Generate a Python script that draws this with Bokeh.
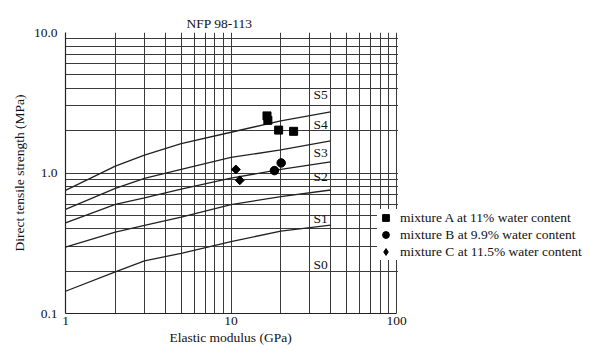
from bokeh.plotting import figure
from bokeh.models import FixedTicker, Legend, LegendItem, Range1d, BoxAnnotation, Title
from bokeh.core.properties import value
from bokeh.embed import file_html
from bokeh.resources import INLINE
import math

# ---- data ----
curve_x = [1, 2, 3, 5, 10, 20, 40]
curve_s45 = [0.753, 1.12, 1.34, 1.62, 1.95, 2.35, 2.72]
curve_s34 = [0.551, 0.778, 0.917, 1.06, 1.29, 1.46, 1.69]
curve_s23 = [0.442, 0.598, 0.664, 0.767, 0.92, 1.06, 1.20]
curve_s12 = [0.297, 0.380, 0.424, 0.486, 0.595, 0.68, 0.757]
curve_s01 = [0.144, 0.198, 0.237, 0.268, 0.325, 0.386, 0.426]

class_names = ["S5", "S4", "S3", "S2", "S1", "S0"]
class_label_y = [3.6, 2.2, 1.41, 0.95, 0.478, 0.225]
class_label_x = 31.5

mixA_E = [16.5, 16.7, 19.4, 23.9]
mixA_R = [2.55, 2.37, 2.02, 1.98]
mixB_E = [20.1, 18.3]
mixB_R = [1.18, 1.04]
mixC_E = [10.7, 11.3]
mixC_R = [1.06, 0.887]

x_ticks = [1, 10, 100]
x_minor = [2, 3, 4, 5, 6, 7, 8, 9, 20, 30, 40, 50, 60, 70, 80, 90]
y_ticks = [0.1, 1, 10]
y_minor = [0.2, 0.3, 0.4, 0.5, 0.6, 0.7, 0.8, 0.9, 2, 3, 4, 5, 6, 7, 8, 9]
y_tick_labels = {0.1: "0.1", 1: "1.0", 10: "10.0"}
x_tick_labels = {1: "1", 10: "10", 100: "100"}

X_MIN, X_MAX = 1, 100
# the frame is widened to the window edge so the legend can sit beside the grid
X_VIEW_END = 10 ** (524 / 165.5)

FONT = "Liberation Serif"
FS = "13.5px"
GRID = "#3a3a3a"

p = figure(width=589, height=348, x_axis_type="log", y_axis_type="log",
           x_range=Range1d(X_MIN, X_VIEW_END), y_range=Range1d(0.1, 10),
           output_backend="svg", toolbar_location=None,
           min_border_left=65, min_border_right=0, min_border_top=32, min_border_bottom=35)
p.outline_line_color = None
p.background_fill_color = "white"
p.border_fill_color = "white"

p.title.text = "NFP 98-113"
p.title.align = "left"
p.title.offset = 121
p.title.text_font = FONT
p.title.text_font_size = FS
p.title.text_font_style = "normal"
p.title.text_color = "#111111"
p.title.standoff = 4

p.xaxis.ticker = FixedTicker(ticks=x_ticks, minor_ticks=x_minor)
p.yaxis.ticker = FixedTicker(ticks=y_ticks, minor_ticks=y_minor)
p.yaxis.major_label_overrides = y_tick_labels
p.xaxis.major_label_overrides = x_tick_labels
p.xaxis.bounds = (X_MIN, X_MAX)
p.xgrid.bounds = (X_MIN, X_MAX)

for ax in (p.xaxis, p.yaxis):
    ax.major_tick_out = 0
    ax.major_tick_in = 0
    ax.minor_tick_out = 0
    ax.minor_tick_in = 0
    ax.axis_line_color = "#222222"
    ax.axis_line_width = 1.2
    ax.major_label_text_font = FONT
    ax.major_label_text_font_size = FS
    ax.major_label_text_color = "#111111"
    ax.axis_label_text_font = FONT
    ax.axis_label_text_font_size = FS
    ax.axis_label_text_font_style = "normal"
    ax.axis_label_text_color = "#111111"
p.xaxis.major_label_standoff = 3
p.yaxis.major_label_standoff = 8
p.yaxis.axis_label = "Direct tensile strength (MPa)"
p.yaxis.axis_label_standoff = 4

xlabel = Title(text="Elastic modulus (GPa)", align="left", offset=104,
               text_font=FONT, text_font_size=FS, text_font_style="normal",
               text_color="#111111", standoff=0)
p.add_layout(xlabel, "below")

for g in (p.xgrid, p.ygrid):
    g.grid_line_color = GRID
    g.grid_line_width = 1
    g.grid_line_alpha = 1
    g.minor_grid_line_color = GRID
    g.minor_grid_line_width = 1

# blank out the horizontal grid to the right of x = 100
p.add_layout(BoxAnnotation(left=X_MAX * 1.02, fill_color="white", fill_alpha=1,
                           line_color=None))

for ys in (curve_s45, curve_s34, curve_s23, curve_s12, curve_s01):
    p.line(curve_x, ys, line_color="#222222", line_width=1.3)

p.text([class_label_x] * len(class_names), class_label_y, text=class_names,
       text_font=value(FONT), text_font_size=FS, text_color="#111111",
       text_baseline="middle", text_align="left")

rA = p.scatter(mixA_E, mixA_R, marker="square", size=8, color="black")
rB = p.scatter(mixB_E, mixB_R, marker="circle", size=8.5, color="black")
# diamond swatch for the legend (drawn underneath the rotated squares)
rC_key = p.scatter(mixC_E, mixC_R, marker="diamond", size=5, color="black")
rC = p.scatter(mixC_E, mixC_R, marker="square", angle=math.pi / 4, size=6.3, color="black")

legend = Legend(items=[
    LegendItem(label="mixture A at 11% water content", renderers=[rA]),
    LegendItem(label="mixture B at 9.9% water content", renderers=[rB]),
    LegendItem(label="mixture C at 11.5% water content", renderers=[rC_key]),
], location=(312, 53))
legend.label_text_font = FONT
legend.label_text_font_size = FS
legend.label_text_color = "#111111"
legend.border_line_color = None
legend.background_fill_color = "white"
legend.background_fill_alpha = 1
legend.glyph_width = 17
legend.glyph_height = 17
legend.label_height = 14
legend.spacing = 0
legend.padding = 8
legend.margin = 0
legend.label_standoff = 6
p.add_layout(legend, "center")

open("out.html", "w").write(file_html(p, INLINE))
